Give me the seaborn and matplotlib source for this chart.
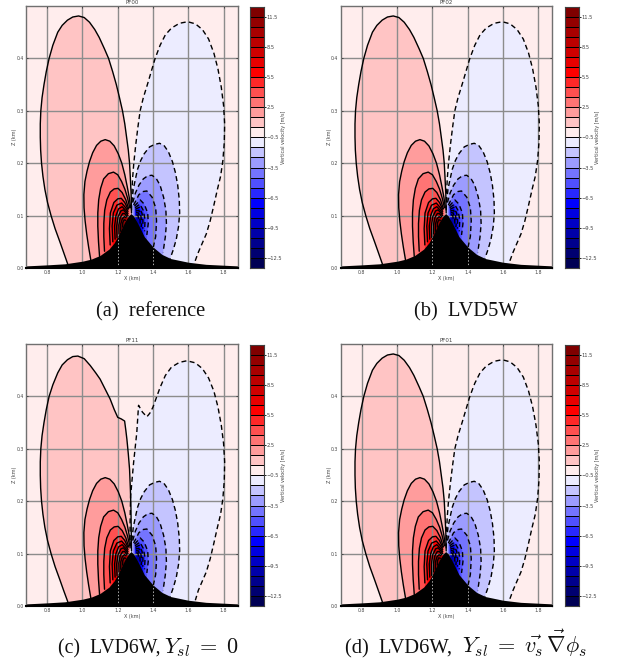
import numpy as np
import matplotlib
matplotlib.use('Agg')
import matplotlib.pyplot as plt
from matplotlib.colors import ListedColormap
import seaborn as sns

# ---- values: outlines are (x km, z km) ----
titles = ['PF00', 'PF02', 'PF11', 'PF01']
captions = ['(a)  reference', '(b)  LVD5W', '(c)  LVD6W,', '(d)  LVD6W,']
caption_math = ['', '', r'$Y_{sl}\;=\;0$', r'$Y_{sl}\;=\;\vec{v_s}\,\vec{\nabla}\phi_s$']

hill_x = [0.68, 0.80, 0.90, 1.00, 1.05, 1.10, 1.15, 1.18, 1.20, 1.22, 1.24, 1.26, 1.275,
          1.29, 1.31, 1.33, 1.35, 1.38, 1.40, 1.45, 1.50, 1.60, 1.70, 1.88]
hill_z = [0.004, 0.006, 0.008, 0.013, 0.017, 0.024, 0.036, 0.048, 0.060, 0.074, 0.088, 0.099, 0.104,
          0.099, 0.087, 0.074, 0.060, 0.048, 0.040, 0.026, 0.018, 0.011, 0.007, 0.004]

red_1 = [(.917,.007),(.893,.03),(.872,.05),(.845,.075),(.822,.10),(.802,.125),(.787,.15),(.776,.175),
         (.768,.20),(.763,.225),(.761,.25),(.761,.275),(.764,.30),(.771,.325),(.782,.35),(.795,.375),
         (.811,.40),(.832,.425),(.86,.45),(.885,.463),(.915,.473),(.945,.479),(.978,.481),(1.01,.478),
         (1.04,.469),(1.07,.455),(1.095,.44),(1.125,.418),(1.148,.40),(1.171,.375),(1.192,.35),
         (1.21,.325),(1.227,.30),(1.24,.275),(1.25,.25),(1.26,.225),(1.267,.20),(1.271,.175),
         (1.276,.14),(1.278,.105)]
red_1_c = [(.917,.008),(.893,.03),(.872,.05),(.845,.075),(.822,.10),(.802,.125),(.787,.15),(.776,.175),
           (.768,.20),(.763,.225),(.761,.25),(.761,.275),(.764,.30),(.771,.325),(.782,.35),(.795,.375),
           (.811,.40),(.832,.422),(.86,.445),(.885,.46),(.915,.47),(.945,.476),(.974,.477),(1.01,.472),
           (1.044,.459),(1.075,.445),(1.10,.433),(1.13,.413),(1.157,.395),(1.18,.375),(1.2,.36),
           (1.22,.357),(1.239,.353),(1.246,.335),(1.252,.318),(1.26,.29),(1.267,.261),(1.272,.22),
           (1.275,.185),(1.277,.13),(1.278,.105)]
red_2 = [(1.048,.014),(1.035,.04),(1.024,.065),(1.015,.09),(1.009,.115),(1.008,.14),(1.014,.165),
         (1.026,.185),(1.04,.203),(1.058,.22),(1.08,.234),(1.104,.242),(1.129,.245),(1.155,.242),
         (1.18,.233),(1.203,.218),(1.223,.20),(1.24,.178),(1.254,.155),(1.265,.135),(1.273,.115)]
red_3 = [(1.097,.022),(1.091,.05),(1.087,.08),(1.087,.105),(1.092,.13),(1.103,.152),(1.12,.17),
         (1.147,.18),(1.176,.183),(1.20,.178),(1.222,.165),(1.241,.15),(1.256,.133),(1.268,.115)]
red_4 = [(1.125,.032),(1.121,.06),(1.121,.085),(1.126,.11),(1.138,.13),(1.158,.145),(1.18,.151),
         (1.202,.152),(1.225,.144),(1.246,.13),(1.262,.113)]
red_5 = [(1.157,.044),(1.153,.075),(1.158,.105),(1.178,.125),(1.20,.132),(1.22,.133),(1.24,.125),(1.258,.112)]
red_6 = [(1.172,.05),(1.168,.08),(1.175,.105),(1.195,.12),(1.222,.124),(1.245,.115),(1.258,.108)]
red_7 = [(1.185,.055),(1.182,.08),(1.19,.10),(1.205,.113),(1.225,.117),(1.245,.11),(1.258,.104)]
red_8 = [(1.196,.058),(1.194,.08),(1.202,.098),(1.218,.109),(1.232,.111),(1.248,.105),(1.258,.10)]
red_9 = [(1.207,.065),(1.206,.082),(1.214,.096),(1.228,.104),(1.24,.104),(1.252,.098)]
red_10 = [(1.217,.07),(1.217,.084),(1.226,.094),(1.238,.098),(1.247,.096)]
red_11 = [(1.228,.078),(1.228,.086),(1.236,.092),(1.245,.091)]

blue_1 = [(1.278,.11),(1.28,.14),(1.284,.17),(1.291,.20),(1.302,.235),(1.314,.268),(1.327,.30),
          (1.345,.325),(1.368,.35),(1.39,.375),(1.412,.40),(1.44,.425),(1.47,.445),(1.505,.458),
          (1.55,.467),(1.596,.47),(1.64,.466),(1.68,.455),(1.715,.437),(1.745,.41),(1.768,.38),
          (1.787,.345),(1.80,.31),(1.806,.275),(1.804,.24),(1.796,.205),(1.783,.175),(1.765,.15),
          (1.745,.12),(1.724,.09),(1.702,.065),(1.68,.048),(1.657,.03),(1.635,.01)]
blue_1_c = [(1.27,.11),(1.27,.16),(1.273,.21),(1.29,.274),(1.308,.331),(1.318,.383),(1.34,.37),(1.365,.361),
            (1.382,.368),(1.399,.379),(1.44,.417),(1.47,.44),(1.505,.456),(1.55,.465),(1.592,.468),
            (1.64,.464),(1.68,.453),(1.715,.435),(1.745,.41),(1.768,.38),(1.787,.345),(1.80,.31),
            (1.806,.275),(1.804,.24),(1.796,.205),(1.783,.175),(1.765,.15),(1.745,.12),(1.724,.09),
            (1.702,.065),(1.68,.048),(1.657,.03),(1.64,.011)]
blue_2 = [(1.28,.125),(1.288,.15),(1.299,.168),(1.312,.188),(1.33,.205),(1.35,.218),(1.38,.231),
          (1.41,.236),(1.437,.238),(1.462,.234),(1.487,.222),(1.51,.203),(1.527,.182),(1.54,.158),
          (1.549,.13),(1.551,.105),(1.545,.08),(1.532,.055),(1.515,.035),(1.497,.018)]
blue_3 = [(1.285,.125),(1.30,.143),(1.32,.158),(1.345,.17),(1.37,.176),(1.394,.177),(1.418,.171),
          (1.44,.158),(1.46,.135),(1.473,.11),(1.476,.085),(1.47,.06),(1.457,.03)]
blue_4 = [(1.29,.12),(1.32,.14),(1.345,.146),(1.365,.147),(1.395,.135),(1.415,.115),(1.42,.09),(1.415,.06),(1.402,.04)]
blue_5 = [(1.295,.118),(1.327,.13),(1.35,.122),(1.37,.105),(1.373,.085),(1.365,.063)]
blue_6 = [(1.298,.115),(1.325,.122),(1.345,.11),(1.355,.092),(1.352,.07)]
blue_7 = [(1.30,.112),(1.322,.116),(1.338,.104),(1.343,.09),(1.342,.075)]
blue_8 = [(1.302,.109),(1.32,.11),(1.332,.098),(1.335,.086),(1.333,.078)]
blue_9 = [(1.304,.106),(1.318,.105),(1.326,.094),(1.327,.084)]
blue_10 = [(1.306,.102),(1.315,.10),(1.32,.09)]

# colour of each 1 m/s band, top of the colour bar first
band_colors = ['#7f0000', '#930000', '#a80000', '#bc0000', '#d00000', '#e80000', '#ff0000',
               '#ff2828', '#ff5050', '#ff7474', '#ff9c9c', '#ffc4c4', '#ffeded',
               '#ececff', '#c4c4ff', '#9c9cff', '#7474ff', '#5050ff', '#2828ff', '#0000ff',
               '#0000e0', '#0000c4', '#0000a8', '#00008c', '#000070', '#000054']
band_mid = [12, 11, 10, 9, 8, 7, 6, 5, 4, 3, 2, 1, 0, -1, -2, -3, -4, -5, -6, -7, -8, -9, -10, -11, -12, -13]
cbar_ticks = [11.5, 8.5, 5.5, 2.5, -0.5, -3.5, -6.5, -9.5, -12.5]
cbar_labels = ['11.5', '8.5', '5.5', '2.5', '\u22120.5', '\u22123.5', '\u22126.5', '\u22129.5', '\u221212.5']
x_ticks = [0.8, 1.0, 1.2, 1.4, 1.6, 1.8]
z_ticks = [0.0, 0.1, 0.2, 0.3, 0.4]

reds = [red_1, red_2, red_3, red_4, red_5, red_6, red_7, red_8, red_9, red_10, red_11]
blues = [blue_1, blue_2, blue_3, blue_4, blue_5, blue_6, blue_7, blue_8, blue_9, blue_10]
red_fills = band_colors[11::-1]     # ffc4c4 towards the dark reds
blue_fills = band_colors[13:]

sns.set_style('white')
plt.rcParams['font.family'] = ['DejaVu Sans']
plt.rcParams['mathtext.fontset'] = 'cm'

W, H = 618, 664
fig = plt.figure(figsize=(W / 100, H / 100), dpi=100)
GRAY = '#8c8c8c'
TXT = '#444444'


def px_axes(left, top, right, bottom):
    return fig.add_axes([left / W, 1 - bottom / H, (right - left) / W, (bottom - top) / H])


def draw_outline(ax, pts, fill, dashed):
    xs = [p[0] for p in pts]
    zs = [p[1] for p in pts]
    # close the patch underneath the hill, which hides the closing edge
    ax.fill(xs + [xs[-1], xs[0]], zs + [0, 0], color=fill, lw=0, zorder=2)
    sns.lineplot(x=xs, y=zs, sort=False, estimator=None, color='black', lw=1.0,
                 linestyle=(0, (3.6, 2.4)) if dashed else '-', ax=ax, zorder=3, legend=False)


def draw_panel(idx, left, top):
    right, bottom = left + 211.7, top + 262
    ax = px_axes(left, top, right, bottom)
    ax.set_facecolor(band_colors[12])
    red_set = list(reds)
    blue_set = list(blues)
    if idx == 2:
        red_set[0] = red_1_c
        blue_set[0] = blue_1_c
    for pts, col in zip(red_set, red_fills):
        draw_outline(ax, pts, col, False)
    for pts, col in zip(blue_set, blue_fills):
        draw_outline(ax, pts, col, True)

    ax.set_xlim(0.68, 1.88)
    ax.set_ylim(0, 0.5)
    ax.set_xticks(x_ticks)
    ax.set_yticks(z_ticks)
    ax.set_xticklabels(['%.1f' % v for v in x_ticks])
    ax.set_yticklabels(['%.1f' % v for v in z_ticks])
    ax.grid(True, color=GRAY, lw=1.0, zorder=4)
    ax.set_axisbelow(False)
    for gl in ax.get_xgridlines() + ax.get_ygridlines():
        gl.set_zorder(4)

    ax.fill_between(hill_x, 0, hill_z, color='black', lw=0, zorder=5)
    # the grid shows through the hill as a broken line
    ax.vlines([1.2, 1.4], 0, [0.06, 0.04], color='#b0b0b0', lw=0.7, linestyles=(0, (1.5, 2)), zorder=6)

    ax.tick_params(direction='in', length=1.5, width=0.4, labelsize=3.3, pad=1.6,
                   labelcolor=TXT, color='black', bottom=True, left=True, top=True, right=True)
    for name, sp in ax.spines.items():
        sp.set_color('black' if name == 'bottom' else '#707070')
        sp.set_linewidth(1.5 if name == 'bottom' else 1.0)
        sp.set_zorder(7)
    ax.set_xlabel('X (km)', fontsize=3.5, color=TXT, labelpad=0.6)
    ax.set_ylabel('Z (km)', fontsize=3.5, color=TXT, labelpad=-0.5)
    ax.set_title(titles[idx], fontsize=4.0, color=TXT, pad=1.2)

    # colour bar, one heatmap cell per band
    cax = px_axes(left + 224.3, top + 0.7, left + 237.8, bottom)
    sns.heatmap(np.array(band_mid).reshape(-1, 1), ax=cax, cmap=ListedColormap(band_colors[::-1]),
                vmin=-13.5, vmax=12.5, cbar=False, linewidths=0.7, linecolor='black',
                xticklabels=False, yticklabels=False)
    cax.set_yticks([12.5 - v for v in cbar_ticks])
    cax.set_yticklabels(cbar_labels, rotation=0)
    cax.yaxis.tick_right()
    cax.tick_params(axis='y', direction='out', length=1.6, width=0.6, labelsize=3.7, pad=0.6,
                    labelcolor=TXT, color='black', right=True, left=False)
    for sp in cax.spines.values():
        sp.set_visible(True)
        sp.set_color('#404040')
        sp.set_linewidth(0.8)
    fig.text((left + 257.3) / W, 1 - (top + 131) / H, 'Vertical velocity [m/s]', rotation=90, fontsize=3.5,
             color=TXT, ha='center', va='center')


draw_panel(0, 26, 6)
draw_panel(1, 340.7, 6)
draw_panel(2, 26, 344)
draw_panel(3, 340.7, 344)

# captions: plain part in Times-like serif, the formula in a slightly larger maths face
serif = ['Liberation Serif']
fig.text(151 / W, 1 - 316 / H, captions[0], family=serif, fontsize=14.8, color='#111111', ha='center', va='baseline')
fig.text(466 / W, 1 - 316 / H, captions[1], family=serif, fontsize=14.8, color='#111111', ha='center', va='baseline')
fig.text(58 / W, 1 - 653 / H, captions[2], family=serif, fontsize=14.2, color='#111111', ha='left', va='baseline')
fig.text(345 / W, 1 - 653 / H, captions[3], family=serif, fontsize=14.8, color='#111111', ha='left', va='baseline')
fig.text(164 / W, 1 - 653 / H, caption_math[2], fontsize=16, color='#111111', ha='left', va='baseline')
fig.text(462 / W, 1 - 653 / H, caption_math[3], fontsize=16, color='#111111', ha='left', va='baseline')

fig.savefig('out.png', dpi=100)
